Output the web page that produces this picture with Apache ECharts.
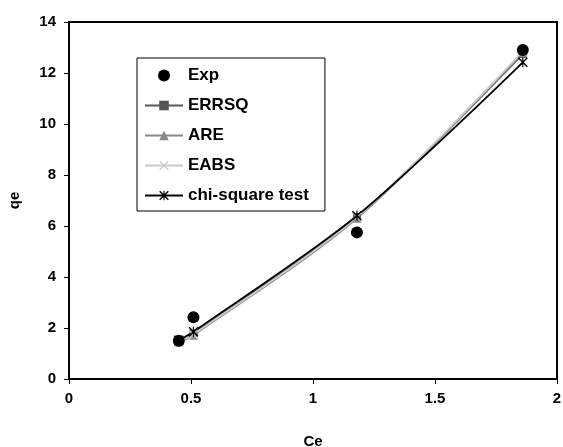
<!DOCTYPE html>
<html>
<head>
<meta charset="utf-8">
<script src="https://cdn.jsdelivr.net/npm/echarts@6/dist/echarts.min.js"></script>
<style>
  html, body { margin: 0; padding: 0; background: #ffffff; }
  #chart { width: 563px; height: 447px; }
</style>
</head>
<body>
<div id="chart"></div>
<script>
// data
var ceValues = [0.45, 0.51, 1.18, 1.86];
var expValues = [1.5, 2.42, 5.75, 12.9];
var errsqValues = [1.5, 1.78, 6.35, 12.75];
var areValues = [1.45, 1.72, 6.3, 12.8];
var eabsValues = [1.48, 1.75, 6.35, 12.85];
var chiValues = [1.52, 1.85, 6.4, 12.42];
var xTicks = ['0', '0.5', '1', '1.5', '2'];

function pairs(ys) {
    return ceValues.map(function (x, i) { return [x, ys[i]]; });
}

// X mark and asterisk as filled shapes
var crossPath = 'path://M0,1 L1,0 L5,4 L9,0 L10,1 L6,5 L10,9 L9,10 L5,6 L1,10 L0,9 L4,5 Z';
var starPath = 'path://M0,1 L1,0 L5,4 L9,0 L10,1 L6,5 L10,9 L9,10 L5,6 L1,10 L0,9 L4,5 Z M4.4,0 L5.6,0 L5.6,10 L4.4,10 Z';

var myChart = echarts.init(document.getElementById('chart'));
var font = 'Liberation Sans, Arial';

function lineSeries(name, ys, color, symbol, size) {
    return {
        name: name,
        type: 'line',
        smooth: 0.3,
        data: pairs(ys),
        symbol: symbol,
        symbolSize: size,
        lineStyle: { color: color, width: 1.8 },
        itemStyle: { color: color },
        z: 3
    };
}

var option = {
    animation: false,
    grid: {
        left: 69, right: 6, top: 22, bottom: 68,
        outerBoundsMode: 'none',
        show: true, borderColor: '#000', borderWidth: 2
    },
    legend: {
        orient: 'vertical',
        left: 137, top: 58,
        padding: [9, 16, 7, 7],
        borderColor: '#000',
        borderWidth: 1,
        backgroundColor: '#fff',
        itemWidth: 38,
        itemHeight: 12,
        itemGap: 13,
        textStyle: { fontFamily: font, fontWeight: 'bold', fontSize: 17, color: '#000' },
        data: ['Exp', 'ERRSQ', 'ARE', 'EABS', 'chi-square test']
    },
    xAxis: {
        type: 'value',
        min: 0, max: 2, interval: 0.5,
        name: 'Ce',
        nameLocation: 'middle',
        nameGap: 55,
        nameTextStyle: { fontFamily: font, fontWeight: 'bold', fontSize: 15, color: '#000' },
        axisLine: { show: true, lineStyle: { color: '#000', width: 2 } },
        axisTick: { show: true, length: 5, lineStyle: { color: '#000' } },
        axisLabel: {
            margin: 12,
            fontFamily: font, fontWeight: 'bold', fontSize: 15, color: '#000',
            formatter: function (v) { return xTicks[Math.round(v / 0.5)]; }
        },
        splitLine: { show: false }
    },
    yAxis: {
        type: 'value',
        min: 0, max: 14, interval: 2,
        name: 'qe',
        nameLocation: 'middle',
        nameGap: 47,
        nameTextStyle: { fontFamily: font, fontWeight: 'bold', fontSize: 15, color: '#000' },
        axisLine: { show: true, lineStyle: { color: '#000', width: 2 } },
        axisTick: { show: true, length: 5, lineStyle: { color: '#000' } },
        axisLabel: {
            margin: 13,
            fontFamily: font, fontWeight: 'bold', fontSize: 15, color: '#000'
        },
        splitLine: { show: false }
    },
    series: [
        lineSeries('ERRSQ', errsqValues, '#555555', 'rect', 8),
        lineSeries('ARE', areValues, '#888888', 'triangle', 9),
        lineSeries('EABS', eabsValues, '#cccccc', crossPath, 10),
        lineSeries('chi-square test', chiValues, '#000000', starPath, 10),
        {
            name: 'Exp',
            type: 'scatter',
            data: pairs(expValues),
            symbol: 'circle',
            symbolSize: 12,
            itemStyle: { color: '#000', opacity: 1 },
            z: 4
        }
    ]
};
myChart.setOption(option);
</script>
</body>
</html>
